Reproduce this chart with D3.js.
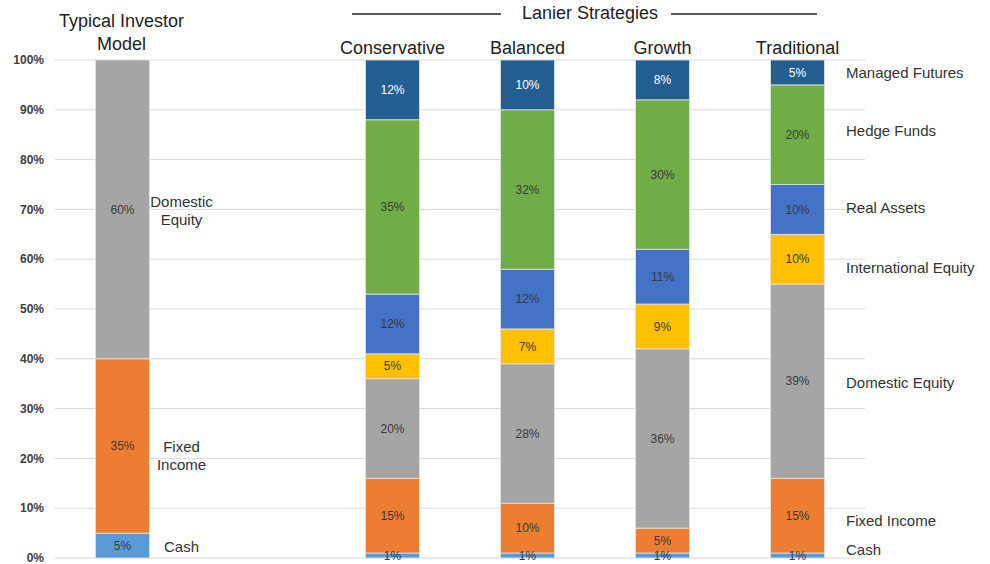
<!DOCTYPE html>
<html>
<head>
<meta charset="utf-8">
<script src="https://cdn.jsdelivr.net/npm/d3@7/dist/d3.min.js"></script>
<style>
  html, body { margin: 0; padding: 0; background: #fff; }
  svg { display: block; }
</style>
</head>
<body>
<svg id="chart" width="990" height="564"></svg>
<script>
// ---- data ----
const categories = ["Typical Investor Model", "", "Conservative", "Balanced", "Growth", "Traditional"];
const assetClasses = ["Cash", "Fixed Income", "Domestic Equity", "International Equity", "Real Assets", "Hedge Funds", "Managed Futures"];
const cash            = [5,  null, 1,  1,  1,  1];
const fixedIncome     = [35, null, 15, 10, 5,  15];
const domesticEquity  = [60, null, 20, 28, 36, 39];
const intlEquity      = [0,  null, 5,  7,  9,  10];
const realAssets      = [0,  null, 12, 12, 11, 10];
const hedgeFunds      = [0,  null, 35, 32, 30, 20];
const managedFutures  = [0,  null, 12, 10, 8,  5];
const yTicks = [0, 10, 20, 30, 40, 50, 60, 70, 80, 90, 100];
const colors = ["#5B9BD5", "#ED7D31", "#A5A5A5", "#FFC000", "#4472C4", "#70AD47", "#255E91"];
const seriesValues = [cash, fixedIncome, domesticEquity, intlEquity, realAssets, hedgeFunds, managedFutures];
// right-hand legend label anchors (value units)
const legendAt = [1.6, 7.4, 35.1, 58.2, 70.3, 85.7, 97.4];
// typical model side labels
const typicalLabels = [["Cash"], ["Fixed", "Income"], ["Domestic", "Equity"]];
const typicalLabelAt = [2.2, 20.5, 69.7];

// ---- layout ----
const svg = d3.select("#chart");
const font = "Liberation Sans, Arial, sans-serif";
const x = d3.scaleBand().domain(categories.map((c, i) => i)).range([55, 865]).paddingInner(0.6).paddingOuter(0.3);
const y = d3.scaleLinear().domain([0, 100]).range([558, 60]);

// gridlines
svg.append("g").selectAll("line").data(yTicks).join("line")
  .attr("x1", 55).attr("x2", 865)
  .attr("y1", d => y(d)).attr("y2", d => y(d))
  .attr("stroke", "#d9d9d9").attr("stroke-width", 1);

// y axis labels
svg.append("g").selectAll("text").data(yTicks).join("text")
  .attr("x", 44).attr("y", d => y(d)).attr("dy", "0.35em")
  .attr("text-anchor", "end")
  .attr("font-family", font)
  .attr("font-size", 12).attr("font-weight", "bold").attr("fill", "#404040")
  .text(d => d + "%");

// stacked data
const rows = categories.map((c, i) => {
  const r = { idx: i };
  assetClasses.forEach((a, k) => r[a] = seriesValues[k][i] || 0);
  return r;
}).filter((r, i) => categories[i] !== "");
const stack = d3.stack().keys(assetClasses)(rows);

const layers = svg.append("g").selectAll("g").data(stack).join("g")
  .attr("fill", (d, k) => colors[k]);
layers.selectAll("rect").data(d => d.filter(s => s[1] - s[0] > 0)).join("rect")
  .attr("x", d => x(d.data.idx))
  .attr("width", x.bandwidth())
  .attr("y", d => y(d[1]))
  .attr("height", d => y(d[0]) - y(d[1]))
  .attr("stroke", "#e3e3e3").attr("stroke-width", 0.8);

// value labels
stack.forEach((layer, k) => {
  svg.append("g").selectAll("text").data(layer.filter(s => s[1] - s[0] > 0)).join("text")
    .attr("x", d => x(d.data.idx) + x.bandwidth() / 2)
    .attr("y", d => y((d[0] + d[1]) / 2))
    .attr("dy", "0.35em")
    .attr("text-anchor", "middle")
    .attr("font-family", font)
    .attr("font-size", 12)
    .attr("fill", k === 6 ? "#ffffff" : "#3a3a3a")
    .text(d => Math.round(d[1] - d[0]) + "%");
});

// typical model side labels
const tx = x(0) + x.bandwidth() + 32;
typicalLabels.forEach((lines, k) => {
  const t = svg.append("text")
    .attr("x", tx).attr("text-anchor", "middle")
    .attr("font-family", font)
    .attr("font-size", 15).attr("fill", "#333");
  lines.forEach((ln, j) => {
    t.append("tspan").attr("x", tx)
      .attr("y", y(typicalLabelAt[k]) + (j - (lines.length - 1) / 2) * 18)
      .attr("dy", "0.35em").text(ln);
  });
});

// right-hand labels
svg.append("g").selectAll("text").data(assetClasses).join("text")
  .attr("x", 846).attr("y", (d, k) => y(legendAt[k])).attr("dy", "0.35em")
  .attr("font-family", font)
  .attr("font-size", 15).attr("fill", "#333")
  .text(d => d);

// category headers
const c0 = x(0) + x.bandwidth() / 2;
svg.append("text").attr("x", c0 - 1).attr("y", 27).attr("text-anchor", "middle")
  .attr("font-family", font).attr("font-size", 18).attr("fill", "#222").text("Typical Investor");
svg.append("text").attr("x", c0 - 1).attr("y", 50).attr("text-anchor", "middle")
  .attr("font-family", font).attr("font-size", 18).attr("fill", "#222").text("Model");

svg.append("g").selectAll("text").data(categories.slice(2)).join("text")
  .attr("x", (d, i) => x(i + 2) + x.bandwidth() / 2)
  .attr("y", 54).attr("text-anchor", "middle")
  .attr("font-family", font).attr("font-size", 18).attr("fill", "#222")
  .text(d => d);

// group header
svg.append("text").attr("x", 590).attr("y", 19).attr("text-anchor", "middle")
  .attr("font-family", font).attr("font-size", 18).attr("fill", "#222").text("Lanier Strategies");
svg.append("line").attr("x1", 352).attr("x2", 501).attr("y1", 14).attr("y2", 14)
  .attr("stroke", "#222").attr("stroke-width", 1.3);
svg.append("line").attr("x1", 671).attr("x2", 817).attr("y1", 14).attr("y2", 14)
  .attr("stroke", "#222").attr("stroke-width", 1.3);
</script>
</body>
</html>
